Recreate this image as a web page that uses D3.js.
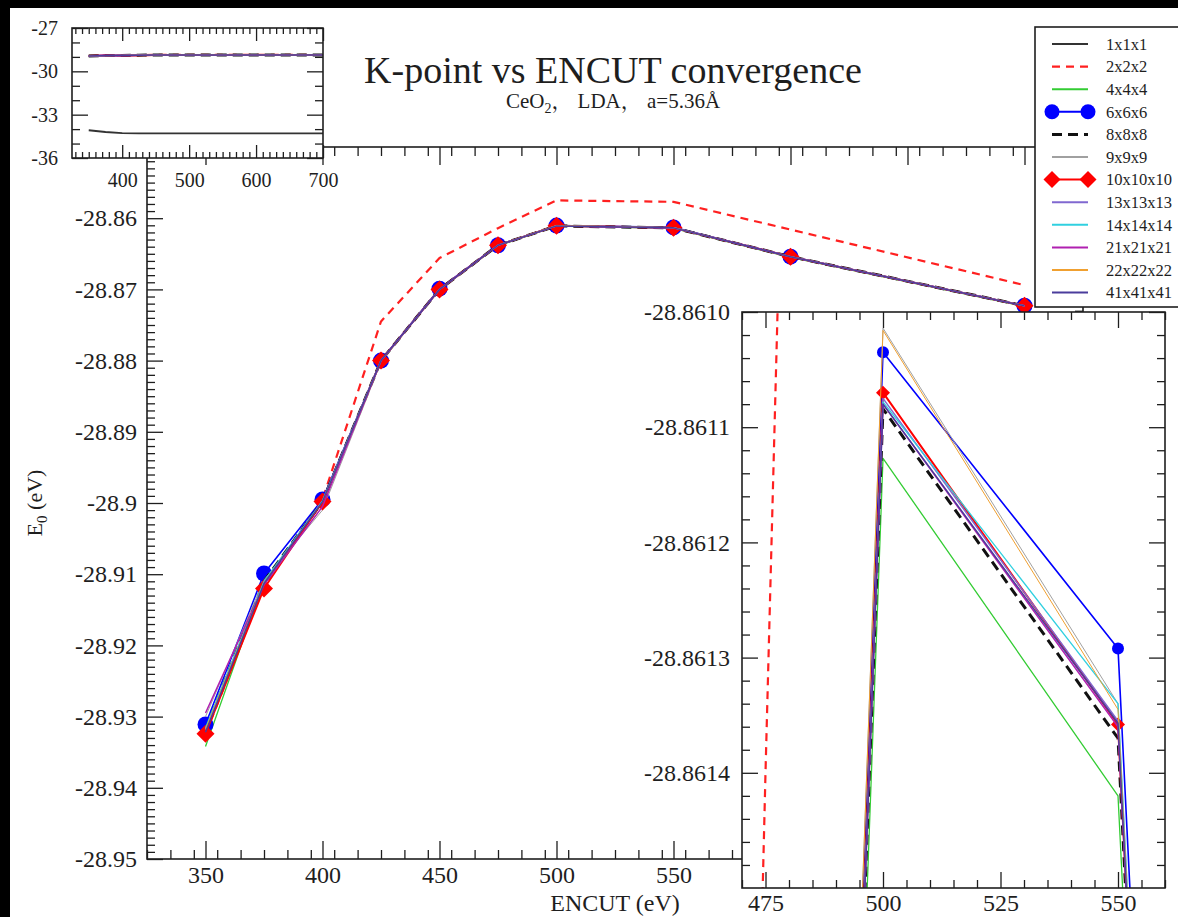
<!DOCTYPE html>
<html><head><meta charset="utf-8">
<script src="https://cdn.jsdelivr.net/npm/d3@7"></script>
<style>
html,body{margin:0;padding:0;background:#000;}
svg{display:block;}
svg text{font-family:"Liberation Serif","Times New Roman","Noto Serif CJK SC","Noto Sans CJK SC",serif;}
</style></head><body>
<svg id="chart" width="1178" height="917"></svg>
<script>
// ---------------- data ----------------
const encut = [350, 375, 400, 425, 450, 475, 500, 550, 600, 700];
const seriesNames = ["1x1x1","2x2x2","4x4x4","6x6x6","8x8x8","9x9x9","10x10x10","13x13x13","14x14x14","21x21x21","22x22x22","41x41x41"];
const e1x1x1   = [-34.08, -34.20, -34.28, -34.30, -34.30, -34.30, -34.29, -34.29, -34.29, -34.29];
const e2x2x2   = [-28.9325, -28.9115, -28.8995, -28.8745, -28.8656, -28.8614, -28.8575, -28.8577, -28.8616, -28.8694];
const e4x4x4   = [-28.9342, -28.9110, -28.9000, -28.8801, -28.8700, -28.8639, -28.861127, -28.861420, -28.8655, -28.8724];
const e6x6x6   = [-28.9311, -28.9099, -28.8995, -28.8800, -28.8699, -28.8638, -28.861035, -28.861292, -28.8654, -28.8723];
const e8x8x8   = [-28.9320, -28.9110, -28.8998, -28.8800, -28.8700, -28.8638, -28.861084, -28.861370, -28.8654, -28.8723];
const e9x9x9   = [-28.9300, -28.9108, -28.9010, -28.8802, -28.8700, -28.8638, -28.861014, -28.861340, -28.8654, -28.8723];
const e10x10x10= [-28.9324, -28.9120, -28.8998, -28.8800, -28.8700, -28.8638, -28.861070, -28.861358, -28.8654, -28.8723];
const e13x13x13= [-28.9318, -28.9112, -28.8997, -28.8800, -28.8700, -28.8638, -28.861075, -28.861355, -28.8654, -28.8723];
const e14x14x14= [-28.9316, -28.9110, -28.8997, -28.8800, -28.8700, -28.8638, -28.861078, -28.861340, -28.8654, -28.8723];
const e21x21x21= [-28.9295, -28.9115, -28.9005, -28.8800, -28.8700, -28.8638, -28.861080, -28.861360, -28.8654, -28.8723];
const e22x22x22= [-28.9318, -28.9112, -28.8998, -28.8800, -28.8700, -28.8638, -28.861016, -28.861345, -28.8654, -28.8723];
const e41x41x41= [-28.9322, -28.9113, -28.8998, -28.8800, -28.8700, -28.8638, -28.861080, -28.861357, -28.8654, -28.8723];
const seriesValues = [e1x1x1,e2x2x2,e4x4x4,e6x6x6,e8x8x8,e9x9x9,e10x10x10,e13x13x13,e14x14x14,e21x21x21,e22x22x22,e41x41x41];

const mainXTicks = [350, 400, 450, 500, 550, 600, 650, 700];
const mainYTicks = [-28.95, -28.94, -28.93, -28.92, -28.91, -28.9, -28.89, -28.88, -28.87, -28.86, -28.85];
const topInsetXTicks = [400, 500, 600, 700];
const topInsetYTicks = [-36, -33, -30, -27];
const zoomXTicks = [475, 500, 525, 550];
const zoomYTicks = [-28.8614, -28.8613, -28.8612, -28.8611, -28.8610];

const titleText = "K-point vs ENCUT convergence";
const xLabelText = "ENCUT (eV)";

// ---------------- styles ----------------
const FONT = '"Liberation Serif","Times New Roman","Noto Serif CJK SC","Noto Sans CJK SC",serif';
const INK = "#1e1e1e";
const styles = [
  {c:"#333333", w:1.8, dash:null},
  {c:"#ff2020", w:2.2, dash:"8,6"},
  {c:"#33cc33", w:1.3, dash:null},
  {c:"#0000ff", w:1.6, dash:null, sym:"circle"},
  {c:"#111111", w:3.0, dash:"10,6"},
  {c:"#a0a0a0", w:1.0, dash:null},
  {c:"#ff0000", w:2.0, dash:null, sym:"diamond"},
  {c:"#8068d0", w:1.5, dash:null},
  {c:"#30d0e0", w:1.3, dash:null},
  {c:"#b020b0", w:1.5, dash:null},
  {c:"#f0a030", w:1.0, dash:null},
  {c:"#4b3c9c", w:1.5, dash:null}
];

const svg = d3.select("#chart");
svg.append("rect").attr("x",10).attr("y",8).attr("width",1168).attr("height",909).attr("fill","#fff");

function minorVals(lo, hi, step, majors) {
  const out = [];
  const n = Math.round((hi - lo) / step);
  for (let i = 0; i <= n; i++) {
    const v = +(lo + i * step).toFixed(8);
    if (!majors.some(m => Math.abs(m - v) < step / 10)) out.push(v);
  }
  return out;
}

function styleText(sel, fs) {
  sel.style("font-family", FONT).style("font-size", fs + "px").attr("fill", INK);
}

function drawAxes(g, x, y, o) {
  const X0 = x.range()[0], X1 = x.range()[1], Y0 = y.range()[0], Y1 = y.range()[1];
  const put = (axis, tx, ty) => {
    const a = g.append("g").attr("transform", `translate(${tx},${ty})`).call(axis);
    a.attr("font-family", null).attr("font-size", null);
    a.select(".domain").remove();
    a.selectAll("line").attr("stroke", INK).attr("stroke-width", 1.3);
    styleText(a.selectAll("text"), o.fs);
    return a;
  };
  put(d3.axisBottom(x).tickValues(o.xMaj).tickSize(-o.xmaj).tickPadding(o.xPad).tickFormat(o.xFmt), 0, Y0);
  put(d3.axisBottom(x).tickValues(o.xMin).tickSize(-o.xmin).tickFormat(""), 0, Y0);
  put(d3.axisTop(x).tickValues(o.xMaj).tickSize(-o.xmaj).tickFormat(""), 0, Y1);
  put(d3.axisTop(x).tickValues(o.xMin).tickSize(-o.xmin).tickFormat(""), 0, Y1);
  put(d3.axisLeft(y).tickValues(o.yMaj).tickSize(-o.ymaj).tickPadding(o.yPad).tickFormat(o.yFmt), X0, 0);
  put(d3.axisLeft(y).tickValues(o.yMin).tickSize(-o.ymin).tickFormat(""), X0, 0);
  put(d3.axisRight(y).tickValues(o.yMaj).tickSize(-o.ymaj).tickFormat(""), X1, 0);
  put(d3.axisRight(y).tickValues(o.yMin).tickSize(-o.ymin).tickFormat(""), X1, 0);
  g.append("rect").attr("x", X0).attr("y", Y1).attr("width", X1 - X0).attr("height", Y0 - Y1)
    .attr("fill", "none").attr("stroke", INK).attr("stroke-width", 1.6);
}

function symbolPath(kind, r) {
  if (kind === "circle") return d3.symbol().type(d3.symbolCircle).size(Math.PI * r * r)();
  return `M0,${-r}L${r},0L0,${r}L${-r},0Z`;
}

function drawSeries(g, x, y, clipId, opt) {
  const X0 = x.range()[0], X1 = x.range()[1], Y0 = y.range()[0], Y1 = y.range()[1];
  g.append("clipPath").attr("id", clipId).append("rect")
    .attr("x", X0).attr("y", Y1).attr("width", X1 - X0).attr("height", Y0 - Y1);
  const inner = g.append("g").attr("clip-path", `url(#${clipId})`);
  const line = d3.line().x((d, i) => x(encut[i])).y(d => y(d));
  seriesValues.forEach((vals, si) => {
    if (opt.skip && opt.skip.includes(si)) return;
    const st = styles[si];
    inner.append("path").attr("d", line(vals)).attr("fill", "none")
      .attr("stroke", st.c).attr("stroke-width", st.w)
      .attr("stroke-dasharray", st.dash).attr("stroke-linejoin", "round");
    if (opt.symbols && st.sym) {
      const r = st.sym === "circle" ? opt.circ : opt.diam;
      inner.selectAll(null).data(vals).enter().append("path")
        .attr("d", symbolPath(st.sym, r))
        .attr("transform", (d, i) => `translate(${x(encut[i])},${y(d)})`)
        .attr("fill", st.c);
    }
  });
}

const fmtMainY = d => String(+d.toFixed(2));

// ---------------- main plot ----------------
const gMain = svg.append("g");
const xMain = d3.scaleLinear().domain([325, 725]).range([147, 1083]);
const yMain = d3.scaleLinear().domain([-28.95, -28.85]).range([859, 147]);
drawSeries(gMain, xMain, yMain, "clipMain", {skip:[0], symbols:true, circ:8, diam:9});
drawAxes(gMain, xMain, yMain, {
  xMaj: mainXTicks, xMin: minorVals(325, 725, 10, mainXTicks), yMaj: mainYTicks,
  yMin: minorVals(-28.95, -28.85, 0.001, mainYTicks),
  xmaj: 18, xmin: 9, ymaj: 16, ymin: 8, xPad: 7, yPad: 10, fs: 24,
  xFmt: d => String(d), yFmt: fmtMainY
});
const xl = gMain.append("text").attr("x", 615).attr("y", 911).attr("text-anchor", "middle").text(xLabelText);
styleText(xl, 24);
const yl = gMain.append("text").attr("transform", "translate(42,503) rotate(-90)").attr("text-anchor", "middle");
styleText(yl, 22);
yl.append("tspan").text("E");
yl.append("tspan").style("font-size", "15px").attr("dy", 5).text("0");
yl.append("tspan").attr("dy", -5).text(" (eV)");

// title
const tt = svg.append("text").attr("x", 613).attr("y", 83).attr("text-anchor", "middle").text(titleText);
styleText(tt, 38);
const sub = svg.append("text").attr("x", 613).attr("y", 108).attr("text-anchor", "middle");
styleText(sub, 21);
sub.append("tspan").text("CeO");
sub.append("tspan").style("font-size", "14px").attr("dy", 5).text("2");
sub.append("tspan").attr("dy", -5).text("， LDA， a=5.36Å");

// ---------------- top-left inset ----------------
const gIn1 = svg.append("g");
const xIn1 = d3.scaleLinear().domain([325, 700]).range([72, 323]);
const yIn1 = d3.scaleLinear().domain([-36, -27]).range([158, 28]);
gIn1.append("rect").attr("x", 72).attr("y", 28).attr("width", 251).attr("height", 130).attr("fill", "#fff");
drawSeries(gIn1, xIn1, yIn1, "clipIn1", {symbols:false});
drawAxes(gIn1, xIn1, yIn1, {
  xMaj: topInsetXTicks, xMin: minorVals(330, 700, 10, topInsetXTicks), yMaj: topInsetYTicks,
  yMin: minorVals(-36, -27, 1, topInsetYTicks),
  xmaj: 13, xmin: 6, ymaj: 16, ymin: 8, xPad: 15, yPad: 14, fs: 20,
  xFmt: d => String(d), yFmt: d => String(d)
});

// ---------------- bottom-right zoom inset ----------------
const gIn2 = svg.append("g");
const xIn2 = d3.scaleLinear().domain([470, 560]).range([742, 1165]);
const yIn2 = d3.scaleLinear().domain([-28.8615, -28.8610]).range([888, 312]);
gIn2.append("rect").attr("x", 742).attr("y", 312).attr("width", 423).attr("height", 576).attr("fill", "#fff");
drawSeries(gIn2, xIn2, yIn2, "clipIn2", {skip:[0], symbols:true, circ:6, diam:7});
drawAxes(gIn2, xIn2, yIn2, {
  xMaj: zoomXTicks, xMin: minorVals(470, 560, 5, zoomXTicks), yMaj: zoomYTicks,
  yMin: minorVals(-28.8615, -28.8610, 0.00002, zoomYTicks.concat([-28.8615])),
  xmaj: 16, xmin: 8, ymaj: 16, ymin: 8, xPad: 6, yPad: 12, fs: 24,
  xFmt: d => String(d), yFmt: d => d.toFixed(4)
});

// ---------------- legend ----------------
const gLeg = svg.append("g");
gLeg.append("rect").attr("x", 1035).attr("y", 27).attr("width", 170).attr("height", 280)
  .attr("fill", "#fff").attr("stroke", INK).attr("stroke-width", 1.6);
seriesNames.forEach((name, i) => {
  const yy = 44 + i * 22.6;
  const st = styles[i];
  gLeg.append("line").attr("x1", 1052).attr("x2", 1088).attr("y1", yy).attr("y2", yy)
    .attr("stroke", st.c).attr("stroke-width", Math.max(st.w, 2)).attr("stroke-dasharray", st.dash);
  if (st.sym) {
    [1052, 1088].forEach(xx => gLeg.append("path")
      .attr("d", symbolPath(st.sym, st.sym === "circle" ? 7.5 : 8.5))
      .attr("transform", `translate(${xx},${yy})`).attr("fill", st.c));
  }
  const t = gLeg.append("text").attr("x", 1106).attr("y", yy).attr("dy", "0.35em").text(name);
  styleText(t, 16.5);
});
</script>
</body></html>
